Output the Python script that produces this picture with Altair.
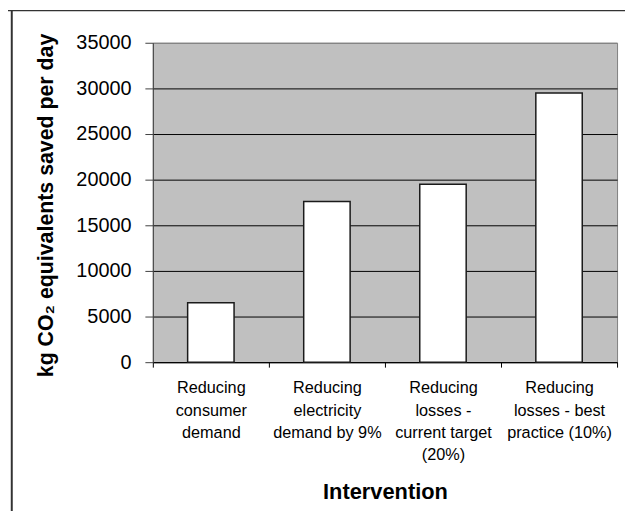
import altair as alt
import pandas as pd

# ---- data ----
categories = [
    "Reducing|consumer|demand",
    "Reducing|electricity|demand by 9%",
    "Reducing|losses -|current target|(20%)",
    "Reducing|losses - best|practice (10%)",
]
values = [6500, 17600, 19500, 29500]
y_ticks = [0, 5000, 10000, 15000, 20000, 25000, 30000, 35000]

df = pd.DataFrame({"intervention": categories, "saved": values})

FONT = "Liberation Sans"
PLOT_W, PLOT_H = 468, 322
PAD_L, PAD_T, PAD_R, PAD_B = 146, 33, 8, 150

bars = alt.Chart(df).mark_bar(
    width=alt.RelativeBandSize(0.4),
    fill="white",
    stroke="#1a1a1a",
    strokeWidth=1.5,
).encode(
    x=alt.X(
        "intervention:N",
        sort=categories,
        scale=alt.Scale(paddingInner=0, paddingOuter=0),
        axis=alt.Axis(
            title="Intervention",
            labelExpr="split(datum.label, '|')",
            labelAngle=0,
            labelFont=FONT,
            labelFontSize=16.4,
            labelLineHeight=22.5,
            labelPadding=13,
            labelBaseline="top",
            labelColor="black",
            ticks=True,
            tickBand="extent",
            tickSize=5,
            tickColor="black",
            domainColor="black",
            titleFont=FONT,
            titleFontSize=22,
            titleFontWeight="bold",
            titleColor="black",
            titleBaseline="alphabetic",
            titleY=137,
        ),
    ),
    y=alt.Y(
        "saved:Q",
        scale=alt.Scale(domain=[0, 35000], nice=False),
        axis=alt.Axis(
            values=y_ticks,
            format="d",
            title="kg CO₂ equivalents saved per day",
            grid=True,
            gridColor={"condition": {"test": "datum.value === 35000", "value": "#808080"}, "value": "#000000"},
            gridWidth=1,
            tickSize=8,
            tickColor="#404040",
            domainColor="#404040",
            labelPadding=14,
            labelFont=FONT,
            labelFontSize=20,
            labelColor="black",
            titleFont=FONT,
            titleFontSize=21.5,
            titleFontWeight="bold",
            titleColor="black",
            titleAngle=270,
            titleBaseline="middle",
            titleX=-107,
            titleY=163.5,
        ),
    ),
)

one = pd.DataFrame({"a": [0]})
border_top = alt.Chart(one).mark_rule(stroke="#333333", strokeWidth=1.5).encode(
    x=alt.value(-PAD_L), x2=alt.value(PLOT_W + PAD_R), y=alt.value(-PAD_T + 0.6)
)
border_left = alt.Chart(one).mark_rule(stroke="#333333", strokeWidth=2).encode(
    x=alt.value(-142.2), y=alt.value(-PAD_T), y2=alt.value(PLOT_H + PAD_B)
)

chart = alt.layer(bars, border_top, border_left).properties(
    width=PLOT_W,
    height=PLOT_H,
    autosize=alt.AutoSizeParams(type="none"),
    padding={"left": PAD_L, "top": PAD_T, "right": PAD_R, "bottom": PAD_B},
    background="white",
).configure_view(
    fill="#C0C0C0",
    stroke="#808080",
    strokeWidth=1,
)

chart.save("out.html", embed_options={"renderer": "svg", "actions": False})
